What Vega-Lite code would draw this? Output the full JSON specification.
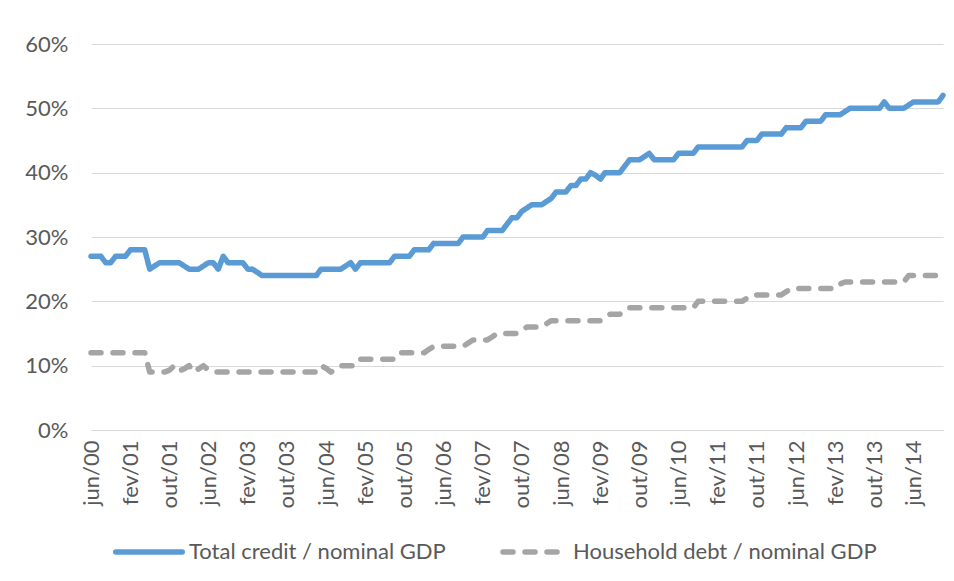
{
  "$schema": "https://vega.github.io/schema/vega-lite/v6.json",
  "width": 852,
  "height": 386,
  "autosize": {"type": "none"},
  "padding": {"left": 91, "top": 44, "right": 11, "bottom": 151},
  "background": "white",
  "config": {
    "view": {"stroke": null},
    "font": "Lato",
    "axis": {"labelFont": "Lato", "labelColor": "#595959", "labelFontSize": 22},
    "legend": {"labelFont": "Lato", "labelColor": "#595959", "labelFontSize": 22, "labelLimit": 0}
  },
  "data": {
    "values": [
      {"d":"2000-06-01","t":27,"h":12},{"d":"2000-07-01","t":27,"h":12},{"d":"2000-08-01","t":27,"h":12},{"d":"2000-09-01","t":26,"h":12},
      {"d":"2000-10-01","t":26,"h":12},{"d":"2000-11-01","t":27,"h":12},{"d":"2000-12-01","t":27,"h":12},{"d":"2001-01-01","t":27,"h":12},
      {"d":"2001-02-01","t":28,"h":12},{"d":"2001-03-01","t":28,"h":12},{"d":"2001-04-01","t":28,"h":12},{"d":"2001-05-01","t":28,"h":12},
      {"d":"2001-06-01","t":25,"h":9},{"d":"2001-07-01","t":25.5,"h":9},{"d":"2001-08-01","t":26,"h":9},{"d":"2001-09-01","t":26,"h":9},
      {"d":"2001-10-01","t":26,"h":9.3},{"d":"2001-11-01","t":26,"h":10},{"d":"2001-12-01","t":26,"h":9.2},{"d":"2002-01-01","t":25.5,"h":9.5},
      {"d":"2002-02-01","t":25,"h":10},{"d":"2002-03-01","t":25,"h":9},{"d":"2002-04-01","t":25,"h":9.5},{"d":"2002-05-01","t":25.5,"h":10},
      {"d":"2002-06-01","t":26,"h":9.3},{"d":"2002-07-01","t":26,"h":9},{"d":"2002-08-01","t":25,"h":9},{"d":"2002-09-01","t":27,"h":9},
      {"d":"2002-10-01","t":26,"h":9},{"d":"2002-11-01","t":26,"h":9},{"d":"2002-12-01","t":26,"h":9},{"d":"2003-01-01","t":26,"h":9},
      {"d":"2003-02-01","t":25,"h":9},{"d":"2003-03-01","t":25,"h":9},{"d":"2003-04-01","t":24.5,"h":9},{"d":"2003-05-01","t":24,"h":9},
      {"d":"2003-06-01","t":24,"h":9},{"d":"2003-07-01","t":24,"h":9},{"d":"2003-08-01","t":24,"h":9},{"d":"2003-09-01","t":24,"h":9},
      {"d":"2003-10-01","t":24,"h":9},{"d":"2003-11-01","t":24,"h":9},{"d":"2003-12-01","t":24,"h":9},{"d":"2004-01-01","t":24,"h":9},
      {"d":"2004-02-01","t":24,"h":9},{"d":"2004-03-01","t":24,"h":9},{"d":"2004-04-01","t":24,"h":9},{"d":"2004-05-01","t":25,"h":10},
      {"d":"2004-06-01","t":25,"h":9.6},{"d":"2004-07-01","t":25,"h":9},{"d":"2004-08-01","t":25,"h":9.5},{"d":"2004-09-01","t":25,"h":10},
      {"d":"2004-10-01","t":25.5,"h":10},{"d":"2004-11-01","t":26,"h":10},{"d":"2004-12-01","t":25,"h":10},{"d":"2005-01-01","t":26,"h":11},
      {"d":"2005-02-01","t":26,"h":11},{"d":"2005-03-01","t":26,"h":11},{"d":"2005-04-01","t":26,"h":11},{"d":"2005-05-01","t":26,"h":11},
      {"d":"2005-06-01","t":26,"h":11},{"d":"2005-07-01","t":26,"h":11},{"d":"2005-08-01","t":27,"h":11},{"d":"2005-09-01","t":27,"h":12},
      {"d":"2005-10-01","t":27,"h":12},{"d":"2005-11-01","t":27,"h":12},{"d":"2005-12-01","t":28,"h":12},{"d":"2006-01-01","t":28,"h":12},
      {"d":"2006-02-01","t":28,"h":12},{"d":"2006-03-01","t":28,"h":12.5},{"d":"2006-04-01","t":29,"h":13},{"d":"2006-05-01","t":29,"h":13},
      {"d":"2006-06-01","t":29,"h":13},{"d":"2006-07-01","t":29,"h":13},{"d":"2006-08-01","t":29,"h":13},{"d":"2006-09-01","t":29,"h":13},
      {"d":"2006-10-01","t":30,"h":13},{"d":"2006-11-01","t":30,"h":13.5},{"d":"2006-12-01","t":30,"h":14},{"d":"2007-01-01","t":30,"h":14},
      {"d":"2007-02-01","t":30,"h":14},{"d":"2007-03-01","t":31,"h":14},{"d":"2007-04-01","t":31,"h":14.5},{"d":"2007-05-01","t":31,"h":15},
      {"d":"2007-06-01","t":31,"h":15},{"d":"2007-07-01","t":32,"h":15},{"d":"2007-08-01","t":33,"h":15},{"d":"2007-09-01","t":33,"h":15},
      {"d":"2007-10-01","t":34,"h":15.5},{"d":"2007-11-01","t":34.5,"h":16},{"d":"2007-12-01","t":35,"h":16},{"d":"2008-01-01","t":35,"h":16},
      {"d":"2008-02-01","t":35,"h":16},{"d":"2008-03-01","t":35.5,"h":16.5},{"d":"2008-04-01","t":36,"h":17},{"d":"2008-05-01","t":37,"h":17},
      {"d":"2008-06-01","t":37,"h":17},{"d":"2008-07-01","t":37,"h":17},{"d":"2008-08-01","t":38,"h":17},{"d":"2008-09-01","t":38,"h":17},
      {"d":"2008-10-01","t":39,"h":17},{"d":"2008-11-01","t":39,"h":17},{"d":"2008-12-01","t":40,"h":17},{"d":"2009-01-01","t":39.6,"h":17},
      {"d":"2009-02-01","t":39,"h":17},{"d":"2009-03-01","t":40,"h":17.4},{"d":"2009-04-01","t":40,"h":18},{"d":"2009-05-01","t":40,"h":18},
      {"d":"2009-06-01","t":40,"h":18},{"d":"2009-07-01","t":41,"h":18.3},{"d":"2009-08-01","t":42,"h":19},{"d":"2009-09-01","t":42,"h":19},
      {"d":"2009-10-01","t":42,"h":19},{"d":"2009-11-01","t":42.5,"h":19},{"d":"2009-12-01","t":43,"h":19},{"d":"2010-01-01","t":42,"h":19},
      {"d":"2010-02-01","t":42,"h":19},{"d":"2010-03-01","t":42,"h":19},{"d":"2010-04-01","t":42,"h":19},{"d":"2010-05-01","t":42,"h":19},
      {"d":"2010-06-01","t":43,"h":19},{"d":"2010-07-01","t":43,"h":19},{"d":"2010-08-01","t":43,"h":19},{"d":"2010-09-01","t":43,"h":19},
      {"d":"2010-10-01","t":44,"h":20},{"d":"2010-11-01","t":44,"h":20},{"d":"2010-12-01","t":44,"h":20},{"d":"2011-01-01","t":44,"h":20},
      {"d":"2011-02-01","t":44,"h":20},{"d":"2011-03-01","t":44,"h":20},{"d":"2011-04-01","t":44,"h":20},{"d":"2011-05-01","t":44,"h":20},
      {"d":"2011-06-01","t":44,"h":20},{"d":"2011-07-01","t":44,"h":20},{"d":"2011-08-01","t":45,"h":20.5},{"d":"2011-09-01","t":45,"h":21},
      {"d":"2011-10-01","t":45,"h":21},{"d":"2011-11-01","t":46,"h":21},{"d":"2011-12-01","t":46,"h":21},{"d":"2012-01-01","t":46,"h":21},
      {"d":"2012-02-01","t":46,"h":21},{"d":"2012-03-01","t":46,"h":21},{"d":"2012-04-01","t":47,"h":21.5},{"d":"2012-05-01","t":47,"h":22},
      {"d":"2012-06-01","t":47,"h":22},{"d":"2012-07-01","t":47,"h":22},{"d":"2012-08-01","t":48,"h":22},{"d":"2012-09-01","t":48,"h":22},
      {"d":"2012-10-01","t":48,"h":22},{"d":"2012-11-01","t":48,"h":22},{"d":"2012-12-01","t":49,"h":22},{"d":"2013-01-01","t":49,"h":22},
      {"d":"2013-02-01","t":49,"h":22},{"d":"2013-03-01","t":49,"h":22.7},{"d":"2013-04-01","t":49.5,"h":23},{"d":"2013-05-01","t":50,"h":23},
      {"d":"2013-06-01","t":50,"h":23},{"d":"2013-07-01","t":50,"h":23},{"d":"2013-08-01","t":50,"h":23},{"d":"2013-09-01","t":50,"h":23},
      {"d":"2013-10-01","t":50,"h":23},{"d":"2013-11-01","t":50,"h":23},{"d":"2013-12-01","t":51,"h":23},{"d":"2014-01-01","t":50,"h":23},
      {"d":"2014-02-01","t":50,"h":23},{"d":"2014-03-01","t":50,"h":23},{"d":"2014-04-01","t":50,"h":23},{"d":"2014-05-01","t":50.5,"h":24},
      {"d":"2014-06-01","t":51,"h":24},{"d":"2014-07-01","t":51,"h":24},{"d":"2014-08-01","t":51,"h":24},{"d":"2014-09-01","t":51,"h":24},
      {"d":"2014-10-01","t":51,"h":24},{"d":"2014-11-01","t":51,"h":24},{"d":"2014-12-01","t":52,"h":24}
    ]
  },
  "transform": [{"fold": ["t", "h"], "as": ["s", "v"]}],
  "mark": {"type": "line", "strokeWidth": 5.5, "strokeCap": "round", "strokeJoin": "round"},
  "encoding": {
    "x": {
      "field": "d",
      "type": "temporal",
      "scale": {
        "type": "utc",
        "domain": [{"year": 2000, "month": 6, "date": 1, "utc": true}, {"year": 2014, "month": 12, "date": 1, "utc": true}]
      },
      "axis": {
        "title": null,
        "grid": false,
        "ticks": false,
        "domain": true,
        "domainColor": "#D9D9D9",
        "domainWidth": 1,
        "labelAngle": 270,
        "labelAlign": "right",
        "labelBaseline": "middle",
        "labelPadding": 10,
        "labelOverlap": false,
        "values": [
          {"year": 2000, "month": 6, "date": 1, "utc": true},
          {"year": 2001, "month": 2, "date": 1, "utc": true},
          {"year": 2001, "month": 10, "date": 1, "utc": true},
          {"year": 2002, "month": 6, "date": 1, "utc": true},
          {"year": 2003, "month": 2, "date": 1, "utc": true},
          {"year": 2003, "month": 10, "date": 1, "utc": true},
          {"year": 2004, "month": 6, "date": 1, "utc": true},
          {"year": 2005, "month": 2, "date": 1, "utc": true},
          {"year": 2005, "month": 10, "date": 1, "utc": true},
          {"year": 2006, "month": 6, "date": 1, "utc": true},
          {"year": 2007, "month": 2, "date": 1, "utc": true},
          {"year": 2007, "month": 10, "date": 1, "utc": true},
          {"year": 2008, "month": 6, "date": 1, "utc": true},
          {"year": 2009, "month": 2, "date": 1, "utc": true},
          {"year": 2009, "month": 10, "date": 1, "utc": true},
          {"year": 2010, "month": 6, "date": 1, "utc": true},
          {"year": 2011, "month": 2, "date": 1, "utc": true},
          {"year": 2011, "month": 10, "date": 1, "utc": true},
          {"year": 2012, "month": 6, "date": 1, "utc": true},
          {"year": 2013, "month": 2, "date": 1, "utc": true},
          {"year": 2013, "month": 10, "date": 1, "utc": true},
          {"year": 2014, "month": 6, "date": 1, "utc": true}
        ],
        "labelExpr": "['jan','fev','mar','abr','mai','jun','jul','ago','set','out','nov','dez'][utcmonth(datum.value)] + '/' + utcFormat(datum.value, '%y')"
      }
    },
    "y": {
      "field": "v",
      "type": "quantitative",
      "scale": {"domain": [0, 60], "nice": false, "zero": true},
      "axis": {
        "title": null,
        "values": [0, 10, 20, 30, 40, 50, 60],
        "labelExpr": "datum.value + '%'",
        "grid": true,
        "gridColor": "#D9D9D9",
        "gridWidth": 1,
        "ticks": false,
        "domain": false,
        "labelPadding": 23
      }
    },
    "color": {
      "field": "s",
      "type": "nominal",
      "scale": {"domain": ["t", "h"], "range": ["#5B9BD5", "#A5A5A5"]},
      "legend": {
        "title": null,
        "orient": "none",
        "direction": "horizontal",
        "legendX": 22,
        "legendY": 472,
        "padding": 0,
        "symbolType": "stroke",
        "symbolSize": 4422,
        "symbolStrokeWidth": 5.5,
        "labelOffset": 4,
        "columnPadding": 46,
        "labelExpr": "datum.value == 't' ? 'Total credit / nominal GDP' : 'Household debt / nominal GDP'",
        "encode": {
          "symbols": {
            "update": {
              "strokeCap": {"value": "round"},
              "size": {"signal": "datum.value == 'h' ? 3600 : 4422"}
            }
          }
        }
      }
    },
    "strokeDash": {
      "field": "s",
      "type": "nominal",
      "scale": {"domain": ["t", "h"], "range": [[1, 0], [10, 12]]},
      "legend": null
    }
  }
}
